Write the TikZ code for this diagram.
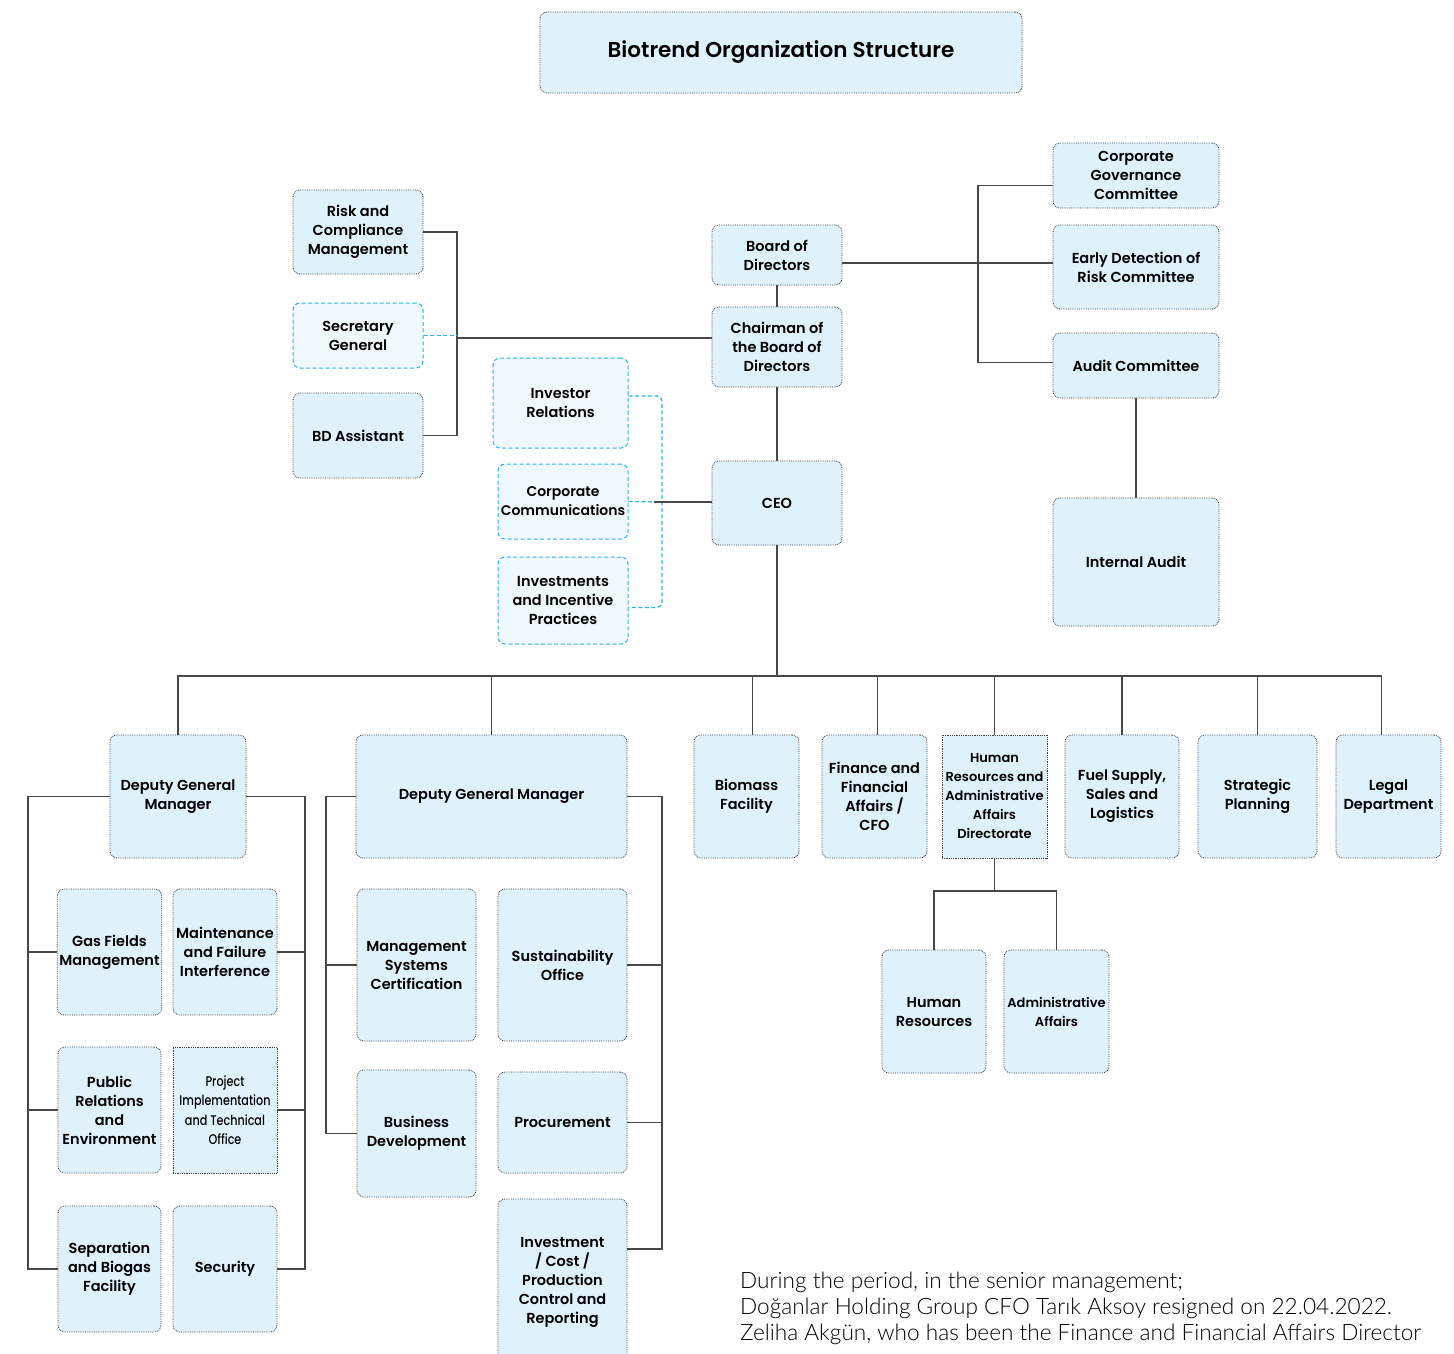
\documentclass[tikz,border=0pt]{standalone}
\usepackage{fontspec}
\setmainfont{Poppins}[BoldFont={Poppins SemiBold}]
\newfontfamily\condfont{Poppins Medium}[FakeStretch=0.8]
\newfontfamily\notefont{Lato Light}
\usetikzlibrary{positioning}
\definecolor{boxblue}{HTML}{DFF1FB}
\definecolor{paleblue}{HTML}{EEF8FD}
\definecolor{dashcyan}{HTML}{2BB3E6}
\definecolor{linegray}{HTML}{474747}
\begin{document}
\begin{tikzpicture}[x=1pt, y=-1pt,
unit/.style={draw=black!75, densely dotted, line width=0.8pt, fill=boxblue,
    rounded corners=7pt, align=center, inner sep=2pt,
    font=\fontsize{14.5}{19}\selectfont\bfseries},
    aux/.style={unit, draw=dashcyan, dash pattern=on 4pt off 2.5pt,
    fill=paleblue, line width=1pt},
    link/.style={draw=linegray, line width=1.2pt},
    dlink/.style={draw=dashcyan, dash pattern=on 4pt off 2.5pt, line width=1.2pt}]
    \useasboundingbox (0,0) rectangle (1454,1353);
    \node[unit, minimum width=482pt, minimum height=81pt,
    font=\fontsize{21.5}{25}\selectfont\bfseries] (title) at (781,52.5)
    {Biotrend Organization Structure};

    % board level
    \node[unit, minimum width=130pt, minimum height=84pt] (risk) at (358,232) {Risk and\\Compliance\\Management};
    \node[aux, minimum width=130pt, minimum height=65pt] (sec) at (358,335.5) {Secretary\\General};
    \node[unit, minimum width=130pt, minimum height=85pt] (bda) at (358,435.5) {BD Assistant};
    \node[unit, minimum width=130pt, minimum height=60pt] (board) at (777,255) {Board of\\Directors};
    \node[unit, minimum width=130pt, minimum height=80pt] (chair) at (777,347) {Chairman of\\the Board of\\Directors};
    \node[unit, minimum width=130pt, minimum height=84pt] (ceo) at (777,503) {CEO};
    \node[unit, minimum width=166pt, minimum height=65pt] (cgc) at (1136,175.5) {Corporate\\Governance\\Committee};
    \node[unit, minimum width=166pt, minimum height=84pt] (edr) at (1136,267) {Early Detection of\\Risk Committee};
    \node[unit, minimum width=166pt, minimum height=65pt] (audit) at (1136,365.5) {Audit Committee};
    \node[unit, minimum width=166pt, minimum height=128pt] (iaudit) at (1136,562) {Internal Audit};
    \node[aux, minimum width=135pt, minimum height=90pt] (inv) at (560.5,403) {Investor\\Relations};
    \node[aux, minimum width=130pt, minimum height=75pt,
    font=\fontsize{14}{19}\selectfont\bfseries] (comm) at (563,501.5) {Corporate\\Communications};
    \node[aux, minimum width=130pt, minimum height=87pt] (invest) at (563,600.5) {Investments\\and Incentive\\Practices};

    % units under the CEO
    \node[unit, minimum width=136pt, minimum height=123pt] (dgma) at (178,796.5) {Deputy General\\Manager};
    \node[unit, minimum width=271pt, minimum height=123pt] (dgmb) at (491.5,796.5) {Deputy General Manager};
    \node[unit, minimum width=105pt, minimum height=123pt] (bio) at (746.5,796.5) {Biomass\\Facility};
    \node[unit, minimum width=105pt, minimum height=123pt] (fin) at (874.5,796.5) {Finance and\\Financial\\Affairs /\\CFO};
    \node[unit, sharp corners, minimum width=105pt, minimum height=123pt,
    font=\fontsize{13}{19}\selectfont\bfseries] (hra) at (994.5,796.5) {Human\\Resources and\\Administrative\\Affairs\\Directorate};
    \node[unit, minimum width=114pt, minimum height=123pt] (fuel) at (1122,796.5) {Fuel Supply,\\Sales and\\Logistics};
    \node[unit, minimum width=119pt, minimum height=123pt] (strat) at (1257.5,796.5) {Strategic\\Planning};
    \node[unit, minimum width=105pt, minimum height=123pt] (legal) at (1388.5,796.5) {Legal\\Department};

    \node[unit, minimum width=103pt, minimum height=126pt] (gas) at (109.5,952) {Gas Fields\\Management};
    \node[unit, minimum width=104pt, minimum height=126pt] (maint) at (225,952) {Maintenance\\and Failure\\Interference};
    \node[unit, minimum width=103pt, minimum height=126pt] (pr) at (109.5,1110) {Public\\Relations\\and\\Environment};
    \node[unit, sharp corners, minimum width=104pt, minimum height=126pt,
    font=\condfont\fontsize{14}{19.5}\selectfont] (proj) at (225,1110) {Project\\Implementation\\and Technical\\Office};
    \node[unit, minimum width=103pt, minimum height=126pt] (sep) at (109.5,1269) {Separation\\and Biogas\\Facility};
    \node[unit, minimum width=104pt, minimum height=126pt] (secur) at (225,1269) {Security};

    \node[unit, minimum width=119pt, minimum height=152pt] (msc) at (416.5,965) {Management\\Systems\\Certification};
    \node[unit, minimum width=129pt, minimum height=152pt] (sust) at (562.5,965) {Sustainability\\Office};
    \node[unit, minimum width=119pt, minimum height=127pt] (biz) at (416.5,1133.5) {Business\\Development};
    \node[unit, minimum width=129pt, minimum height=101pt] (proc) at (562.5,1122.5) {Procurement};
    \node[unit, minimum width=129pt, minimum height=166pt] (icp) at (562.5,1282) {Investment\\/ Cost /\\Production\\Control and\\Reporting};

    \node[unit, minimum width=104pt, minimum height=123pt] (hr) at (934,1011.5) {Human\\Resources};
    \node[unit, minimum width=105pt, minimum height=123pt,
    font=\fontsize{13}{19}\selectfont\bfseries] (adm) at (1056.5,1011.5) {Administrative\\Affairs};

    \node[anchor=north west, inner sep=0pt, align=left,
    font=\notefont\fontsize{22.6}{26}\selectfont] (note) at (740,1272)
    {During the period, in the senior management;\\
    Doğanlar Holding Group CFO Tarık Aksoy resigned on 22.04.2022.\\
    Zeliha Akgün, who has been the Finance and Financial Affairs Director};

    % junction points
    \coordinate (lspine) at (457,338);
    \coordinate (rspine) at (978,263);
    \coordinate (cspine) at (662,502);
    \coordinate (bus) at (777,676);
    \coordinate (hrbus) at (994.5,891);
    \coordinate (arail) at (28,1269);
    \coordinate (brail) at (305,1269);
    \coordinate (crail) at (326,1133.5);
    \coordinate (drail) at (662,1249);

\draw[link] (risk.east) -| (lspine) |- (bda.east);
\draw[dlink] (sec.east) -- (sec.east -| lspine);
\draw[link] (lspine) -- (lspine -| chair.west);
\draw[link] (board) -- (chair);
\draw[link] (chair) -- (ceo);
\draw[link] (rspine -| board.east) -- (rspine -| edr.west);
\draw[link] ([yshift=-10pt]cgc.west) -| (rspine) |- ([yshift=3pt]audit.west);
\draw[link] (audit) -- (iaudit);
\draw[dlink, rounded corners=5pt] ([yshift=7pt]inv.east) -| (cspine) |- ([yshift=-7pt]invest.east);
\draw[dlink] (comm.east) -- (cspine);
\draw[link] ([xshift=-8pt]cspine) -- (cspine -| ceo.west);
\draw[link] (ceo) -- (bus);
\draw[link] (dgma.north) -- (dgma.north |- bus) -- ([xshift=-7pt]legal.north |- bus) -- ([xshift=-7pt]legal.north);
\draw[link] (dgmb.north) -- (dgmb.north |- bus);
\draw[link] ([xshift=6pt]bio.north) -- ([xshift=6pt]bio.north |- bus);
\draw[link] ([xshift=3pt]fin.north) -- ([xshift=3pt]fin.north |- bus);
\draw[link] (hra.north) -- (hra.north |- bus);
\draw[link] (fuel.north) -- (fuel.north |- bus);
\draw[link] (strat.north) -- (strat.north |- bus);
\draw[link] (dgma.west) -| (arail) -- (sep.west);
\draw[link] (gas.west) -- (gas.west -| arail);
\draw[link] (pr.west) -- (pr.west -| arail);
\draw[link] (dgma.east) -| (brail) -- (secur.east);
\draw[link] (maint.east) -- (maint.east -| brail);
\draw[link] (proj.east) -- (proj.east -| brail);
\draw[link] (dgmb.west) -| (crail) -- (biz.west);
\draw[link] (msc.west) -- (msc.west -| crail);
\draw[link] (dgmb.east) -| (drail) -- (drail -| icp.east);
\draw[link] (sust.east) -- (sust.east -| drail);
\draw[link] (proc.east) -- (proc.east -| drail);
\draw[link] (hra.south) -- (hrbus);
\draw[link] (hr.north) -- (hr.north |- hrbus) -- (adm.north |- hrbus) -- (adm.north);
\end{tikzpicture}
\end{document}
